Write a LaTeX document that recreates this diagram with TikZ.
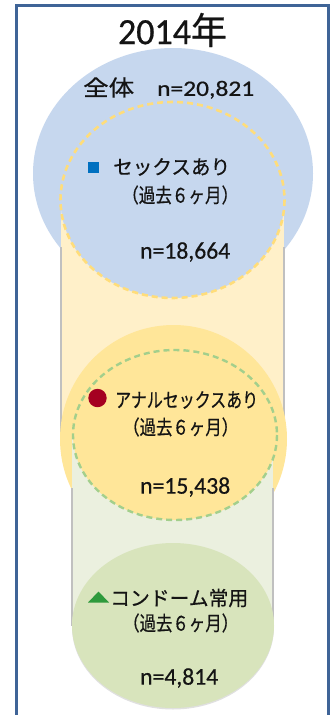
\documentclass[tikz,border=0pt]{standalone}
\usepackage{fontspec}
\usepackage{graphicx}
\setmainfont[FakeBold=0.6]{Carlito}
\newfontfamily\cjk[FakeBold=0.6]{Noto Sans CJK JP}
\definecolor{framec}{HTML}{3F6497}
\definecolor{blueall}{HTML}{C6D7EE}
\definecolor{yelband}{HTML}{FFF0C9}
\definecolor{yelcirc}{HTML}{FFE699}
\definecolor{yeldash}{HTML}{FFDD7A}
\definecolor{grnband}{HTML}{EBF0DF}
\definecolor{grncirc}{HTML}{D8E4BC}
\definecolor{grndash}{HTML}{A3CF8C}
\definecolor{sideline}{HTML}{C0C0C0}
\definecolor{txt}{HTML}{141414}
\definecolor{mkblue}{HTML}{0070C0}
\definecolor{mkred}{HTML}{A50021}
\definecolor{mkgreen}{HTML}{2E9A3C}
\newcommand\fitw[2]{\resizebox{#1pt}{\height}{#2}}
\begin{document}
\begin{tikzpicture}[x=1pt,y=-1pt,
  lbl/.style={inner sep=0pt, anchor=west, text=txt},
  dashy/.style={draw=yeldash, line width=2.6pt, dash pattern=on 6pt off 4pt},
  dashg/.style={draw=grndash, line width=2.4pt, dash pattern=on 6pt off 4pt},
  side/.style={draw=sideline, line width=1.3pt}]
\useasboundingbox (0,0) rectangle (331,715);
\clip (0,0) rectangle (331,715);
% frame
\draw[framec, line width=2.5pt, fill=white] (16.5,5.5) rectangle (328.5,740);
% title
\node[inner sep=0pt, text=txt] (title) at (172.5,30) {\fitw{109}{\fontsize{37}{40}\selectfont 2014{\cjk 年}}};
% blue outer
\fill[blueall] (173,173.5) ellipse [x radius=140, y radius=125.5];
% yellow band
\fill[yelband] (61,200) rectangle (284,439);
\draw[side] (61,247) -- (61,439);
\draw[side] (284,247) -- (284,439);
% inner blue dashed
\fill[blueall] (172.5,200) ellipse [x radius=112, y radius=98];
\draw[dashy] (172.5,200) ellipse [x radius=112, y radius=98];
% yellow outer
\fill[yelcirc] (173.5,439) ellipse [x radius=113.5, y radius=114];
% green band
\fill[grnband] (72,435) rectangle (273,626);
\draw[side] (72,488) -- (72,626);
\draw[side] (273,488) -- (273,626);
% inner yellow dashed
\fill[yelcirc] (175,435) ellipse [x radius=102, y radius=85];
\draw[dashg] (175,435) ellipse [x radius=102, y radius=85];
% green circle
\fill[black!12] (173,627) ellipse [x radius=101, y radius=82.5];
\fill[grncirc] (173,625.5) ellipse [x radius=101, y radius=82.5];
% texts
\node[lbl] (all) at (83,88) {\fitw{171}{\fontsize{22}{26}\selectfont{\cjk 全体}\hspace{0.9em}n=20,821}};
\fill[mkblue] (88,162) rectangle (98.5,172.5);
\node[lbl] (sex) at (113,167) {\fitw{117}{\cjk\fontsize{20}{24}\selectfont セックスあり}};
\node[lbl] (p1) at (122,195) {\fitw{116}{\cjk\fontsize{20}{24}\selectfont （過去６ヶ月）}};
\node[lbl] (n1) at (140,252) {\fitw{90}{\fontsize{24}{28}\selectfont n=18,664}};
\fill[mkred] (97.5,398) circle (9.2);
\node[lbl] (anal) at (115,400) {\fitw{143}{\cjk\fontsize{20}{24}\selectfont アナルセックスあり}};
\node[lbl] (p2) at (123,427) {\fitw{115}{\cjk\fontsize{20}{24}\selectfont （過去６ヶ月）}};
\node[lbl] (n2) at (140,487) {\fitw{90}{\fontsize{24}{28}\selectfont n=15,438}};
\fill[mkgreen] (88,602.5) -- (98.5,591.5) -- (109,602.5) -- cycle;
\node[lbl] (cond) at (110,598) {\fitw{138}{\cjk\fontsize{20}{24}\selectfont コンドーム常用}};
\node[lbl] (p3) at (123,623) {\fitw{115}{\cjk\fontsize{20}{24}\selectfont （過去６ヶ月）}};
\node[lbl] (n3) at (140,678) {\fitw{78}{\fontsize{24}{28}\selectfont n=4,814}};
\end{tikzpicture}
\end{document}
